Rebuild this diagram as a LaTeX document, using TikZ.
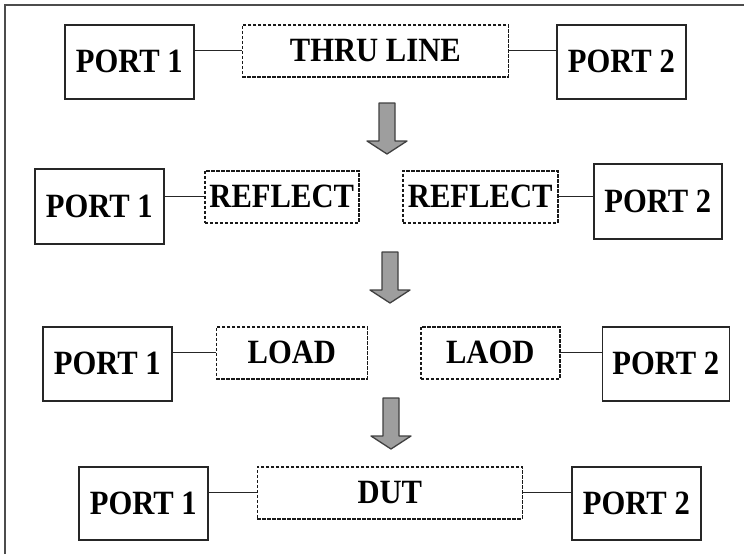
\documentclass[tikz,border=0pt]{standalone}
\usepackage{fontspec}
\setmainfont{Liberation Serif}
\newfontfamily\boxfont[FakeStretch=0.9]{Liberation Serif}
\usetikzlibrary{positioning}

\begin{document}
\begin{tikzpicture}[
  x=1pt, y=-1pt,
  port/.style={rectangle, draw=black!85, line width=1.6pt, inner sep=2pt, minimum width=129pt, minimum height=74pt, anchor=north west, font=\boxfont\fontsize{34}{34}\selectfont\bfseries},
  dbox/.style={rectangle, draw=black!90, line width=1.5pt, dash pattern=on 3.5pt off 1.5pt, inner sep=2pt, minimum height=52pt, anchor=north west, font=\boxfont\fontsize{34}{34}\selectfont\bfseries},
  link/.style={draw=black!85, line width=1.4pt},
  bigarrow/.style={draw=black!75, line width=1.3pt, fill=black!38, line join=round}
]
\useasboundingbox (0,0) rectangle (744,554);

% frame
\draw[black!70, line width=2.5pt] (5,554) -- (5,5) -- (744,5);

% thru
\node[port] (p1a) at (64,24) {PORT 1};
\node[dbox, minimum width=266pt, right=47pt of p1a.north east, anchor=north west] (thru) {THRU LINE};
\node[port, right=47pt of thru.north east, anchor=north west] (p2a) {PORT 2};

% reflect
\node[port, minimum height=75pt] (p1b) at (34,168) {PORT 1};
\node[dbox, minimum width=154pt] (refl) at (204,170) {REFLECT};
\node[dbox, minimum width=155pt] (refr) at (402,170) {REFLECT};
\node[port, minimum width=128pt, minimum height=75pt] (p2b) at (593,163) {PORT 2};

% load
\node[port] (p1c) at (42,326) {PORT 1};
\node[dbox, minimum width=151pt, right=43pt of p1c.north east, anchor=north west] (loadl) {LOAD};
\node[dbox, minimum width=139pt] (loadr) at (420,326) {LAOD};
\node[port, minimum width=127pt, right=41pt of loadr.north east, anchor=north west] (p2c) {PORT 2};

% dut
\node[port, minimum height=73pt] (p1d) at (78,466) {PORT 1};
\node[dbox, minimum width=265pt, right=48pt of p1d.north east, anchor=north west] (dut) {DUT};
\node[port, minimum height=73pt, right=48pt of dut.north east, anchor=north west] (p2d) {PORT 2};

\draw[link] (p1a.east |- thru.west) -- (thru.west);
\draw[link] (thru.east) -- (thru.east -| p2a.west);
\draw[link] (p1b.east |- refl.west) -- (refl.west);
\draw[link] (refr.east) -- (refr.east -| p2b.west);
\draw[link] (p1c.east |- loadl.west) -- (loadl.west);
\draw[link] (loadr.east) -- (loadr.east -| p2c.west);
\draw[link] (p1d.east |- dut.west) -- (dut.west);
\draw[link] (dut.east) -- (dut.east -| p2d.west);

% step arrows
\foreach \cx/\ty in {387/103, 390/252, 391/398}
  \draw[bigarrow] (\cx-8,\ty) -- (\cx+8,\ty) -- (\cx+8,\ty+38) -- (\cx+20,\ty+38)
    -- (\cx,\ty+51) -- (\cx-20,\ty+38) -- (\cx-8,\ty+38) -- cycle;

\end{tikzpicture}
\end{document}
